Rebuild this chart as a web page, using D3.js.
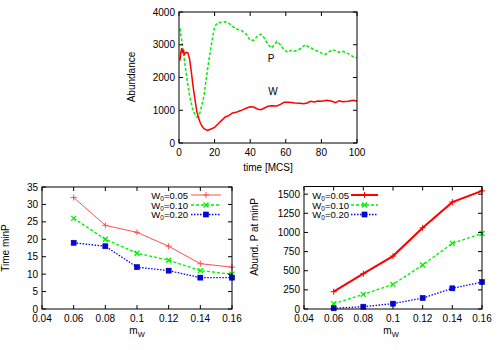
<!DOCTYPE html>
<html>
<head>
<title>abundance chart</title>
<script src="https://cdnjs.cloudflare.com/ajax/libs/d3/7.8.5/d3.min.js"></script>
<style>
  body { margin: 0; background: #fff; }
  text { font-family: "Liberation Sans", Arial, sans-serif; font-size: 10px; fill: #000; }
  .frame { fill: none; stroke: #000; stroke-width: 1; }
</style>
</head>
<body>
<div id="vis_container"></div>
<script>

    // top panel: time series
    var timeP = [0.5, 2, 4, 6, 8, 10, 11, 12, 14, 16, 18, 20, 22, 26, 28, 32, 35, 38, 40, 42, 44, 46, 48, 50, 52, 54, 55, 57, 59, 61, 63, 65, 68, 71, 73, 76, 79, 82, 84, 86, 88, 90, 92, 95, 98, 100];
    var abundP = [3500, 2950, 2140, 1425, 967, 794, 810, 967, 1425, 2240, 2950, 3560, 3680, 3700, 3660, 3480, 3440, 3310, 3135, 3135, 3260, 3320, 3200, 3000, 2900, 3030, 3100, 3000, 2850, 2770, 2830, 2800, 2870, 3000, 2930, 2850, 2770, 2700, 2770, 2850, 2820, 2770, 2800, 2730, 2630, 2600];
    var timeW = [0.5, 1, 1.5, 2, 2.5, 3, 4, 5, 6, 7, 8, 9, 10, 11, 12, 13, 14, 16, 18, 20, 22, 24, 26, 28, 30, 32, 34, 36, 38, 40, 42, 44, 46, 48, 50, 52, 55, 57, 59, 62, 65, 68, 70, 72, 74, 76, 78, 80, 83, 86, 88, 90, 92, 95, 98, 100];
    var abundW = [2515, 2750, 2900, 2750, 2850, 2700, 2770, 2750, 2545, 2140, 1680, 1320, 967, 763, 610, 509, 438, 387, 427, 478, 590, 692, 794, 835, 916, 936, 977, 1018, 1069, 1109, 1100, 1038, 1018, 1069, 1120, 1140, 1130, 1180, 1242, 1242, 1221, 1211, 1200, 1221, 1272, 1252, 1282, 1272, 1303, 1272, 1232, 1292, 1262, 1272, 1303, 1272];

    // bottom panels
    var mW = [0.06, 0.08, 0.1, 0.12, 0.14, 0.16];
    var seriesNames = ["W\u2080=0.05", "W\u2080=0.10", "W\u2080=0.20"];
    var timeMin05 = [32, 24, 22, 18, 13, 12];
    var timeMin10 = [26, 20, 16, 14, 11, 10];
    var timeMin20 = [19, 18, 12, 11, 9, 9];
    var abundMin05 = [226, 461, 691, 1061, 1396, 1543];
    var abundMin10 = [70, 191, 322, 574, 857, 987];
    var abundMin20 = [9, 30, 70, 143, 270, 352];

    var mwTicks = [0.04, 0.06, 0.08, 0.1, 0.12, 0.14, 0.16];

    var width = 500, height = 350;
    var svg = d3.select("#vis_container").append("svg")
        .attr("width", width).attr("height", height);

    var RED = "#ff0000", GREEN = "#00ee00", BLUE = "#0000ff";

    // gnuplot-like frame with inward ticks mirrored on all sides
    function drawFrame(g, x, y, xticks, yticks, xfmt, yfmt) {
        var x0 = x.range()[0], x1 = x.range()[1];
        var y0 = y.range()[0], y1 = y.range()[1];
        var tl = 4;
        xticks.forEach(function(t) {
            var px = x(t);
            g.append("line").attr("class", "frame").attr("x1", px).attr("x2", px).attr("y1", y0).attr("y2", y0 - tl);
            g.append("line").attr("class", "frame").attr("x1", px).attr("x2", px).attr("y1", y1).attr("y2", y1 + tl);
            g.append("text").attr("x", px).attr("y", y0 + 13).attr("text-anchor", "middle").text(xfmt(t));
        });
        yticks.forEach(function(t) {
            var py = y(t);
            g.append("line").attr("class", "frame").attr("x1", x0).attr("x2", x0 + tl).attr("y1", py).attr("y2", py);
            g.append("line").attr("class", "frame").attr("x1", x1).attr("x2", x1 - tl).attr("y1", py).attr("y2", py);
            g.append("text").attr("x", x0 - 4).attr("y", py + 3.5).attr("text-anchor", "end").text(yfmt(t));
        });
        g.append("rect").attr("class", "frame")
            .attr("x", x0).attr("y", y1).attr("width", x1 - x0).attr("height", y0 - y1);
    }

    function yLabel(g, x, y, txt) {
        g.append("text").attr("transform", "translate(" + x + "," + y + ") rotate(-90)")
            .attr("text-anchor", "middle").text(txt);
    }

    function xLabelMw(g, x, y) {
        var t = g.append("text").attr("x", x).attr("y", y).attr("text-anchor", "middle");
        t.append("tspan").text("m");
        t.append("tspan").attr("dy", 3).style("font-size", "7.5px").text("W");
    }

    // ---------- top panel ----------
    var topG = svg.append("g");
    var xT = d3.scaleLinear().domain([0, 100]).range([179, 357]);
    var yT = d3.scaleLinear().domain([0, 4000]).range([143, 12]);

    topG.append("path")
        .datum(d3.zip(timeP, abundP))
        .attr("fill", "none").attr("stroke", GREEN).attr("stroke-width", 1.5)
        .attr("stroke-dasharray", "3,2")
        .attr("d", d3.line().x(function(d) { return xT(d[0]); }).y(function(d) { return yT(d[1]); }));
    topG.append("path")
        .datum(d3.zip(timeW, abundW))
        .attr("fill", "none").attr("stroke", RED).attr("stroke-width", 1.5)
        .attr("d", d3.line().x(function(d) { return xT(d[0]); }).y(function(d) { return yT(d[1]); }));

    drawFrame(topG, xT, yT, d3.range(0, 101, 20), d3.range(0, 4001, 1000), String, String);
    yLabel(topG, 135, 77, "Abundance");
    topG.append("text").attr("x", 268).attr("y", 171).attr("text-anchor", "middle").text("time [MCS]");
    topG.append("text").attr("x", 271).attr("y", 62).attr("text-anchor", "middle").text("P");
    topG.append("text").attr("x", 273).attr("y", 95).attr("text-anchor", "middle").text("W");

    // ---------- markers ----------
    function markPlus(g, px, py, color) {
        g.append("path").attr("d", "M" + (px - 3) + "," + py + "h6M" + px + "," + (py - 3) + "v6")
            .attr("stroke", color).attr("stroke-width", 1).attr("fill", "none");
    }
    function markCross(g, px, py, color) {
        g.append("path").attr("d", "M" + (px - 2.5) + "," + (py - 2.5) + "l5,5M" + (px - 2.5) + "," + (py + 2.5) + "l5,-5")
            .attr("stroke", color).attr("stroke-width", 1.3).attr("fill", "none");
    }
    function markSquare(g, px, py, color) {
        g.append("rect").attr("x", px - 2.5).attr("y", py - 2.5).attr("width", 5).attr("height", 5)
            .attr("fill", color).attr("stroke", "#000080").attr("stroke-width", 0.6);
    }

    function drawSeries(g, x, y, vals, style) {
        var pts = d3.zip(mW, vals);
        var line = d3.line().x(function(d) { return x(d[0]); }).y(function(d) { return y(d[1]); });
        var p = g.append("path").datum(pts).attr("fill", "none")
            .attr("stroke", style.color).attr("stroke-width", style.width).attr("d", line);
        if (style.dash) p.attr("stroke-dasharray", style.dash);
        pts.forEach(function(d) { style.mark(g, x(d[0]), y(d[1]), style.color); });
    }

    function drawLegend(g, textX, lineX0, lineX1, rows, styles) {
        styles.forEach(function(s, i) {
            var ry = rows[i];
            var t = g.append("text").attr("x", textX).attr("y", ry + 3.5).attr("text-anchor", "end")
                .style("font-size", "9.5px");
            t.append("tspan").text("W");
            t.append("tspan").attr("dy", 2).style("font-size", "6.5px").text("0");
            t.append("tspan").attr("dy", -2).text(seriesNames[i].slice(2));
            var l = g.append("line").attr("x1", lineX0).attr("x2", lineX1).attr("y1", ry).attr("y2", ry)
                .attr("stroke", s.color).attr("stroke-width", s.width);
            if (s.dash) l.attr("stroke-dasharray", s.dash);
            s.mark(g, (lineX0 + lineX1) / 2, ry, s.color);
        });
    }

    // ---------- bottom left ----------
    var bl = svg.append("g");
    var xL = d3.scaleLinear().domain([0.04, 0.16]).range([42, 232]);
    var yL = d3.scaleLinear().domain([0, 35]).range([309, 187]);
    var stylesL = [
        { color: "#ff5050", width: 1, mark: markPlus },
        { color: GREEN, width: 1.3, dash: "3,2", mark: markCross },
        { color: BLUE, width: 1.3, dash: "1.5,1.5", mark: markSquare }
    ];
    drawSeries(bl, xL, yL, timeMin05, stylesL[0]);
    drawSeries(bl, xL, yL, timeMin10, stylesL[1]);
    drawSeries(bl, xL, yL, timeMin20, stylesL[2]);
    drawLegend(bl, 188, 191, 221, [195, 205, 214.5], stylesL);
    drawFrame(bl, xL, yL, mwTicks, d3.range(0, 36, 5), d3.format("~g"), String);
    yLabel(bl, 9, 248, "Time minP");
    xLabelMw(bl, 137, 334);

    // ---------- bottom right ----------
    var br = svg.append("g");
    var xR = d3.scaleLinear().domain([0.04, 0.16]).range([304, 482]);
    var yR = d3.scaleLinear().domain([0, 1600]).range([309, 186.5]);
    var stylesR = [
        { color: RED, width: 2, mark: markPlus },
        { color: GREEN, width: 1.3, dash: "3,2", mark: markCross },
        { color: BLUE, width: 1.3, dash: "1.5,1.5", mark: markSquare }
    ];
    drawSeries(br, xR, yR, abundMin05, stylesR[0]);
    drawSeries(br, xR, yR, abundMin10, stylesR[1]);
    drawSeries(br, xR, yR, abundMin20, stylesR[2]);
    drawLegend(br, 349, 351, 378, [195, 205, 214.5], stylesR);
    drawFrame(br, xR, yR, mwTicks, d3.range(0, 1501, 250), d3.format("~g"), String);
    yLabel(br, 258, 237, "Abund. P at minP");
    xLabelMw(br, 391, 334);

</script>
</body>
</html>
